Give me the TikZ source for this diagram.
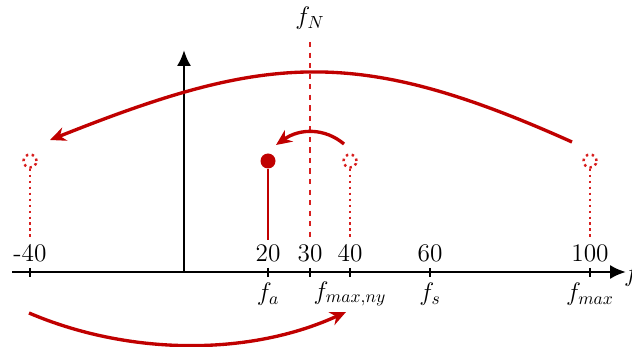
\documentclass[tikz,border=0pt]{standalone}
\usetikzlibrary{arrows.meta}
\definecolor{darkred}{RGB}{192,0,0}
\definecolor{ghostred}{RGB}{215,30,30}
\begin{document}
\begin{tikzpicture}[x=0.02cm, y=-0.02cm,
    axis/.style={line width=1.6pt, -{Latex[length=9pt,width=8pt]}},
    tick/.style={line width=1pt},
    lbl/.style={font=\Large, inner sep=1pt},
    stem/.style={line width=1.4pt, darkred},
    ghost/.style={line width=1.4pt, ghostred, dotted},
    sigdot/.style={circle, fill=darkred, inner sep=0pt, minimum size=0.3cm},
    ghostdot/.style={circle, draw=ghostred, line width=1.4pt, dotted, inner sep=0pt, minimum size=0.26cm},
    mirror/.style={line width=1.9pt, darkred, -{Stealth[length=9pt,width=8pt]}}
]
\useasboundingbox (0,0) rectangle (632,347);

% Axes
\coordinate (xstart) at (12,272);
\coordinate (xend) at (626,272);
\coordinate (o) at (184,272);
\coordinate (ytop) at (184,50);
\draw[axis] (xstart) -- (xend);
\draw[axis] (o) -- (ytop);
\node[lbl, anchor=west] (faxis) at (622,275) {$f$};

% Ticks and values
\foreach \x/\v/\n in {30/-40/m40, 268/20/a, 310/30/n, 350/40/ny, 430/60/s, 590/100/max} {
    \draw[tick] (\x,268) -- (\x,277);
    \node[lbl] (v\n) at (\x,253) {\v};
}

% Frequency names
\node[lbl] (fa) at (268,294) {$f_a$};
\node[lbl] (fmaxny) at (350,294) {$f_{max,ny}$};
\node[lbl] (fs) at (430,294) {$f_s$};
\node[lbl] (fmax) at (590,294) {$f_{max}$};
\node[lbl] (fN) at (310,18) {$f_N$};

% Nyquist line
\coordinate (nyt) at (310,42);
\coordinate (nyb) at (310,242);
\draw[dashed, ghostred, line width=1pt] (nyt) -- (nyb);

% Sampled signal
\node[sigdot] (sig) at (268,161) {};
\coordinate (sigb) at (268,240);
\draw[stem] (sig.south) -- (sigb);

% Mirrored components
\foreach \x/\n in {30/m40, 350/ny, 590/max} {
    \node[ghostdot] (g\n) at (\x,161) {};
    \coordinate (gb\n) at (\x,240);
    \draw[ghost] (g\n.south) -- (gb\n);
}

% Folding arrows
\coordinate (bigS) at (572,142);
\coordinate (bigE) at (50,140);
\draw[mirror] (bigS) .. controls (356,45) and (266,54) .. (bigE);
\coordinate (smS) at (344,144);
\coordinate (smE) at (276,145);
\draw[mirror] (smS) .. controls (325,128) and (300,128) .. (smE);
\coordinate (lowS) at (29,313);
\coordinate (lowE) at (346,312);
\draw[mirror] (lowS) .. controls (130,356) and (250,356) .. (lowE);

\end{tikzpicture}
\end{document}
